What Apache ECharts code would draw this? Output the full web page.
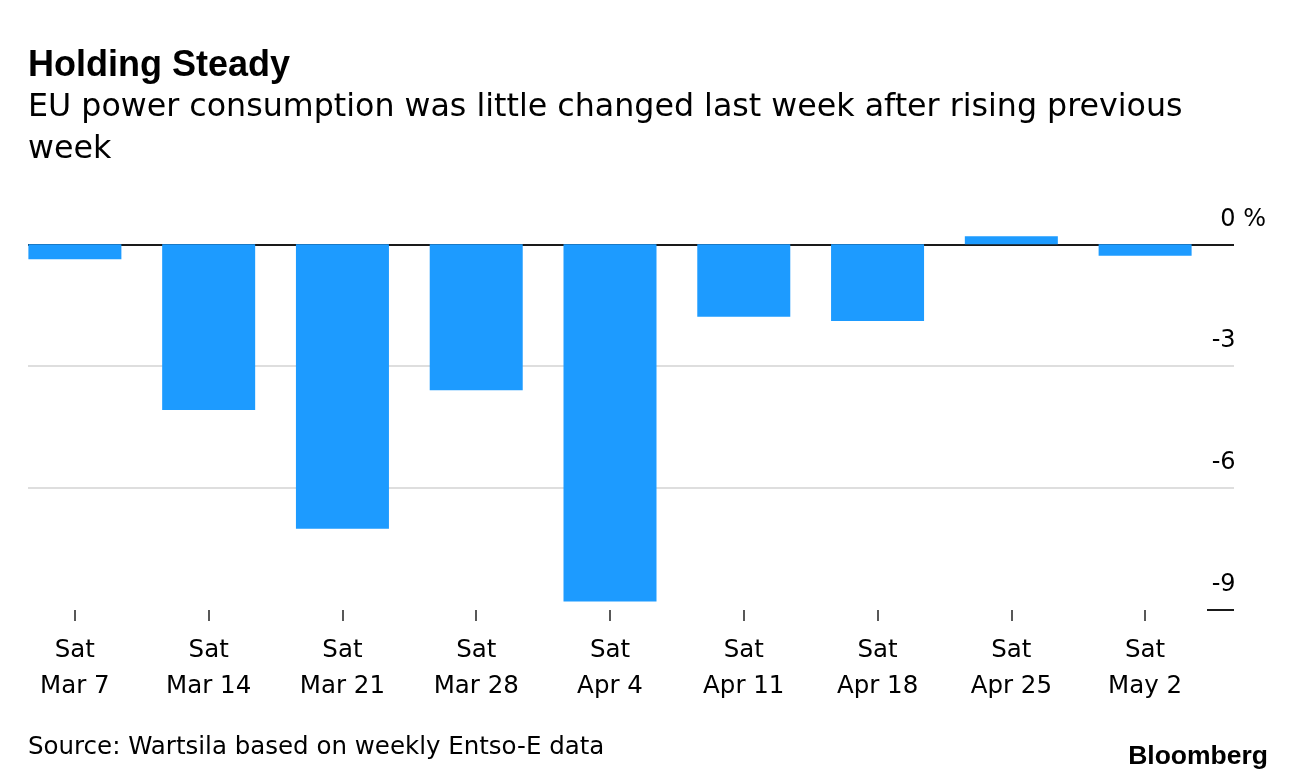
<!DOCTYPE html>
<html>
<head>
<meta charset="utf-8">
<script src="https://cdn.jsdelivr.net/npm/echarts@6/dist/echarts.min.js"></script>
<style>
html,body{margin:0;padding:0;background:#fff;}
#chart{width:1296px;height:784px;}
</style>
</head>
<body>
<div id="chart"></div>
<script>
const categories = ['Sat\nMar 7','Sat\nMar 14','Sat\nMar 21','Sat\nMar 28','Sat\nApr 4','Sat\nApr 11','Sat\nApr 18','Sat\nApr 25','Sat\nMay 2'];
const values = [-0.37, -4.08, -7.0, -3.59, -8.79, -1.78, -1.89, 0.2, -0.28];
const yMin = -9, yMax = 0.5, yInterval = 3;

const FONT = "'Liberation Sans', Arial, sans-serif";
const WIDE = "'DejaVu Sans', 'Liberation Sans', sans-serif";
const chart = echarts.init(document.getElementById('chart'), null, {renderer: 'canvas'});

const gridTop = 224, gridBottom = 174;

const option = {
  backgroundColor: '#fff',
  animation: false,
  title: [
    {
      text: 'Holding Steady',
      left: 23, top: 41, padding: 5,
      textStyle: {fontFamily: FONT, fontSize: 36, fontWeight: 'bold', color: '#000', lineHeight: 40}
    },
    {
      text: 'EU power consumption was little changed last week after rising previous\nweek',
      left: 23, top: 82, padding: 5,
      textStyle: {fontFamily: WIDE, fontSize: 31.7, fontWeight: 'normal', color: '#000', lineHeight: 42}
    },
    {
      text: 'Source: Wartsila based on weekly Entso-E data',
      left: 23, top: 728, padding: 5,
      textStyle: {fontFamily: WIDE, fontSize: 24.5, fontWeight: 'normal', color: '#000', lineHeight: 30}
    },
    {
      text: 'Bloomberg',
      right: 23, top: 737, padding: 5,
      textStyle: {fontFamily: FONT, fontSize: 26.5, fontWeight: 'bold', color: '#000', lineHeight: 30}
    }
  ],
  grid: [
    {left: 8, right: 84, top: gridTop, bottom: gridBottom},
    {left: 28, right: 62, top: gridTop, bottom: gridBottom},
    {left: 1207, right: 62, top: gridTop, bottom: gridBottom}
  ],
  xAxis: [
    {
      type: 'category', gridIndex: 0, data: categories,
      position: 'bottom',
      axisLine: {show: false, onZero: false},
      axisTick: {show: true, alignWithLabel: true, length: 11, lineStyle: {color: '#222', width: 1.5}},
      axisLabel: {fontFamily: WIDE, fontSize: 24.5, color: '#000', lineHeight: 36, margin: 23, interval: 0}
    },
    {type: 'value', gridIndex: 1, show: false},
    {type: 'value', gridIndex: 2, show: false}
  ],
  yAxis: [
    {type: 'value', gridIndex: 0, min: yMin, max: yMax, interval: yInterval, show: false},
    {
      type: 'value', gridIndex: 1, min: yMin, max: yMax, interval: yInterval,
      axisLine: {show: false}, axisTick: {show: false}, axisLabel: {show: false},
      splitLine: {show: true, lineStyle: {width: 2, color: ['rgba(0,0,0,0)', '#dedede', '#dedede', '#1a1a1a', 'rgba(0,0,0,0)']}}
    },
    {
      type: 'value', gridIndex: 2, min: yMin, max: yMax, interval: yInterval,
      position: 'right',
      axisLine: {show: false}, axisTick: {show: false},
      splitLine: {show: true, lineStyle: {width: 2, color: ['#1a1a1a', 'rgba(0,0,0,0)', 'rgba(0,0,0,0)', 'rgba(0,0,0,0)', 'rgba(0,0,0,0)']}},
      axisLabel: {
        showMaxLabel: false,
        margin: 32, align: 'right', verticalAlign: 'bottom', padding: [0, 0, 13, 0],
        fontFamily: WIDE, fontSize: 24, color: '#000',
        formatter: function (v) {
          if (v > 0) return '';
          if (v === 0) return '{n|0}{p| %}';
          return '{n|' + v + '}{h| %}';
        },
        rich: {
          n: {fontFamily: WIDE, fontSize: 24, color: '#000'},
          p: {fontFamily: WIDE, fontSize: 24, color: '#000'},
          h: {fontFamily: WIDE, fontSize: 24, color: 'rgba(0,0,0,0)'}
        }
      }
    }
  ],
  series: [
    {
      type: 'bar', xAxisIndex: 0, yAxisIndex: 0,
      data: values, barWidth: 93,
      itemStyle: {color: '#1d9bff'},
      z: 3
    }
  ]
};
chart.setOption(option);
</script>
</body>
</html>
